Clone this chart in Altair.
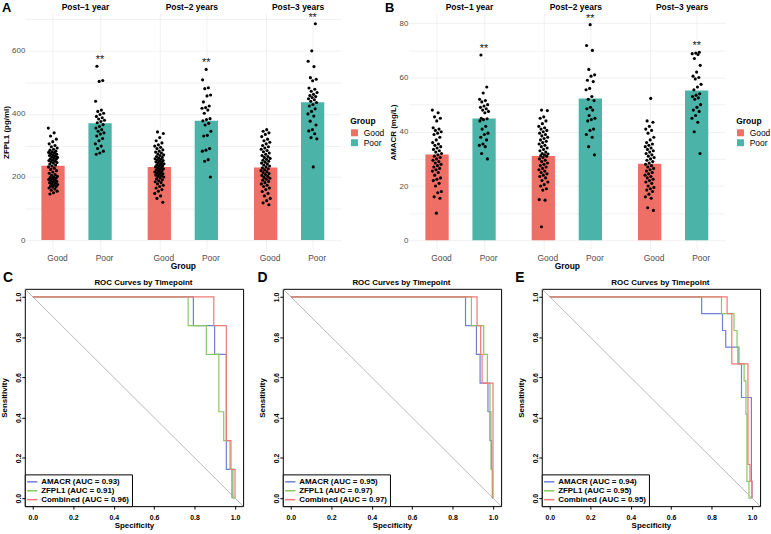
import altair as alt
import pandas as pd

FONT = "Liberation Sans"
GOOD_FILL = "#EE6F66"
POOR_FILL = "#4CB3A9"
ROC_COLORS = ["#6F80D6", "#88C862", "#F27878"]

timepoints = ["Post−1 year", "Post−2 years", "Post−3 years"]
groups = ["Good", "Poor"]

# ---------------- ZFPL1 (pg/ml) individual values ----------------
zfpl1_good_1 = [355, 340, 330, 320, 312, 305, 300, 296, 292, 288, 285, 282, 280, 278, 276, 274, 272,
                270, 268, 266, 264, 262, 260, 258, 256, 254, 252, 250, 248, 246, 244, 241, 238, 235,
                232, 228, 224, 220, 216, 212, 208, 205, 202, 200, 198, 196, 194, 192, 190, 188, 186,
                184, 182, 180, 178, 176, 174, 172, 170, 168, 165, 162, 158, 155, 150, 146]
zfpl1_poor_1 = [551, 506, 503, 440, 412, 408, 402, 398, 392, 388, 384, 380, 376, 372, 366, 360, 355,
                350, 345, 340, 336, 330, 322, 315, 305, 298, 290, 282, 276, 272]
zfpl1_good_2 = [343, 338, 325, 315, 308, 302, 298, 294, 290, 286, 282, 279, 276, 273, 270, 268, 265,
                262, 260, 258, 256, 254, 252, 250, 248, 246, 244, 242, 240, 238, 236, 234, 232, 230,
                228, 226, 224, 222, 220, 218, 216, 214, 212, 210, 208, 206, 204, 202, 200, 197, 194,
                191, 188, 185, 182, 178, 174, 170, 165, 160, 155, 148, 140, 132, 120]
zfpl1_poor_2 = [541, 508, 483, 480, 460, 457, 438, 425, 420, 418, 412, 402, 385, 382, 378, 370, 365,
                345, 332, 330, 290, 285, 282, 255, 250, 200]
zfpl1_good_3 = [350, 345, 340, 335, 328, 320, 315, 310, 305, 300, 296, 292, 288, 284, 280, 276, 272,
                268, 265, 262, 259, 256, 253, 250, 247, 244, 241, 238, 235, 232, 229, 226, 223, 220,
                217, 214, 211, 208, 205, 202, 199, 196, 193, 190, 186, 182, 178, 174, 170, 165, 160,
                154, 148, 140, 132, 125, 118, 112]
zfpl1_poor_3 = [686, 600, 567, 550, 515, 510, 505, 482, 478, 472, 468, 462, 458, 455, 452, 448, 445,
                440, 436, 430, 425, 416, 408, 400, 393, 377, 365, 350, 346, 337, 325, 321, 232]
zfpl1_bar_good = [236, 232, 230]
zfpl1_bar_poor = [370, 378, 437]

# ---------------- AMACR (mg/L) individual values ----------------
amacr_good_1 = [48, 47, 45.5, 45, 44, 41.5, 41, 40.5, 40, 39.5, 39, 38, 37, 36, 35.5, 35, 34.5, 34,
                33.5, 33, 32.5, 32, 31.5, 31, 30.5, 30, 29.5, 29, 28.5, 28, 27.5, 27, 26.5, 26, 25.5,
                25, 24, 23, 22.5, 22, 21, 20, 18, 17.5, 16, 15.5, 10]
amacr_poor_1 = [68.3, 56.5, 54.3, 52, 51.5, 51, 50, 49.5, 49, 48.5, 48, 47.5, 47, 45, 44.8, 44.5, 44,
                42, 41, 39.5, 39, 38, 37, 35.5, 35, 34.5, 32, 30]
amacr_good_2 = [48, 47.8, 45.5, 45, 44, 43, 42, 41.5, 41, 40.5, 40, 39.5, 39, 38.5, 38, 37.5, 37, 36.5,
                36, 35.5, 35, 34.5, 34, 33.5, 33, 32.5, 32, 31.8, 31.5, 31.2, 31, 30.5, 30, 29.5, 29,
                28.5, 28, 27.5, 27, 26.5, 26, 25.5, 25, 24.5, 24, 23.5, 23, 22, 21.5, 20.5, 20, 19,
                18.5, 15, 14.8, 5]
amacr_poor_2 = [79.5, 71.8, 70, 63, 61, 60.5, 59, 58.5, 56, 55.5, 53, 52, 51.5, 49, 48.5, 48, 46, 45,
                44.5, 44, 41, 40.5, 39, 38, 34.5, 31.5]
amacr_good_3 = [52.3, 44, 43.5, 42, 41, 40.5, 39.5, 38, 37, 36, 35.5, 35, 34.5, 34, 33.5, 33, 32.5, 32,
                31.5, 31, 30.5, 30, 29.5, 29, 28.5, 28, 27.5, 27, 26.5, 26, 25.5, 25, 24.5, 24, 23.5,
                23, 22.5, 22, 21.5, 21, 20, 19.5, 19, 18.5, 18, 17, 16, 15.5, 12, 11]
amacr_poor_3 = [69.3, 69, 68.8, 68.5, 67, 64.5, 62, 60.5, 60, 59.5, 57.5, 56.5, 55.5, 54, 53.5, 53,
                52.5, 52, 50, 49, 48, 47.5, 46, 45, 43.5, 40, 32]
amacr_bar_good = [31.6, 31.1, 28.2]
amacr_bar_poor = [44.9, 52.3, 55.2]

# ---------------- ROC curves (specificity, sensitivity) ----------------
markers = ["AMACR", "ZFPL1", "Combined"]

auc_c = [0.93, 0.91, 0.96]
roc_c_amacr_spec = [0, 0.794, 0.794, 0.899, 0.899, 0.957, 0.957, 0.985, 0.985]
roc_c_amacr_sens = [1, 1, 0.857, 0.857, 0.714, 0.714, 0.143, 0.143, 0]
roc_c_zfpl1_spec = [0, 0.768, 0.768, 0.858, 0.858, 0.92, 0.92, 0.944, 0.944, 0.975, 0.975, 0.99, 0.99, 1.0]
roc_c_zfpl1_sens = [1, 1, 0.857, 0.857, 0.714, 0.714, 0.429, 0.429, 0.286, 0.286, 0.143, 0.143, 0, 0]
roc_c_comb_spec = [0, 0.895, 0.895, 0.957, 0.957, 0.98, 0.98, 1.0, 1.0]
roc_c_comb_sens = [1, 1, 0.857, 0.857, 0.286, 0.286, 0.143, 0.143, 0]

auc_d = [0.95, 0.97, 0.97]
roc_d_amacr_spec = [0, 0.864, 0.864, 0.918, 0.918, 0.936, 0.936, 0.975, 0.975, 0.985, 0.985, 0.993, 0.993, 0.997, 0.997]
roc_d_amacr_sens = [1, 1, 0.857, 0.857, 0.714, 0.714, 0.571, 0.571, 0.429, 0.429, 0.286, 0.286, 0.143, 0.143, 0]
roc_d_zfpl1_spec = [0, 0.893, 0.893, 0.954, 0.954, 0.972, 0.972, 0.985, 0.985, 0.99, 0.99, 0.997, 0.997, 1.0]
roc_d_zfpl1_sens = [1, 1, 0.857, 0.857, 0.714, 0.714, 0.571, 0.571, 0.429, 0.429, 0.143, 0.143, 0, 0]
roc_d_comb_spec = [0, 0.921, 0.921, 0.939, 0.939, 0.946, 0.946, 1.0, 1.0]
roc_d_comb_sens = [1, 1, 0.857, 0.857, 0.714, 0.714, 0.571, 0.571, 0]

auc_e = [0.94, 0.95, 0.95]
roc_e_amacr_spec = [0, 0.751, 0.751, 0.854, 0.854, 0.87, 0.87, 0.931, 0.931, 0.948, 0.948, 0.997, 0.997, 1.0, 1.0]
roc_e_amacr_sens = [1, 1, 0.917, 0.917, 0.833, 0.833, 0.75, 0.75, 0.667, 0.667, 0.5, 0.5, 0.083, 0.083, 0]
roc_e_zfpl1_spec = [0, 0.849, 0.849, 0.911, 0.911, 0.926, 0.926, 0.936, 0.936, 0.961, 0.961, 0.97, 0.97,
                    0.975, 0.975, 0.985, 0.985, 1.0]
roc_e_zfpl1_sens = [1, 1, 0.917, 0.917, 0.833, 0.833, 0.75, 0.75, 0.667, 0.667, 0.583, 0.583, 0.417,
                    0.417, 0.083, 0.083, 0, 0]
roc_e_comb_spec = [0, 0.877, 0.877, 0.9, 0.9, 0.98, 0.98, 0.99, 0.99, 1.0, 1.0]
roc_e_comb_sens = [1, 1, 0.917, 0.917, 0.667, 0.667, 0.167, 0.167, 0.083, 0.083, 0]

STEP = 2.26  # distance between facets in units of the Good-Poor gap
BAR_HALF = 0.2475


def bar_panel(goods, poors, bar_good, bar_poor, ytitle, ydomain, grid_vals, label_step,
              letter, letter_x, legend_x, y_extent, y_label_pad):
    pts, bars, stars, heads = [], [], [], []
    for f in range(3):
        for g, vals in enumerate([goods[f], poors[f]]):
            for i, v in enumerate(vals):
                jit = (((i * 0.6180339887) + f * 0.31 + g * 0.17) % 1.0 - 0.5) * 0.2
                pts.append({"pos": f * STEP + g + jit, "value": v})
        bars.append({"pos": f * STEP, "x0": f * STEP - BAR_HALF, "x1": f * STEP + BAR_HALF,
                     "mean": bar_good[f], "group": "Good"})
        bars.append({"pos": f * STEP + 1, "x0": f * STEP + 1 - BAR_HALF, "x1": f * STEP + 1 + BAR_HALF,
                     "mean": bar_poor[f], "group": "Poor"})
        stars.append({"pos": f * STEP + 1, "top": max(poors[f]), "t": "**"})
        heads.append({"pos": f * STEP + 0.5, "label": timepoints[f]})
    pts, bars, stars, heads = map(pd.DataFrame, [pts, bars, stars, heads])

    xscale = alt.Scale(domain=[-0.6, 2 * STEP + 1.6], nice=False, zero=False)
    yscale = alt.Scale(domain=ydomain, nice=False, zero=False)
    tick_pos = [f * STEP + g for f in range(3) for g in range(2)]
    xaxis = alt.Axis(values=tick_pos, title="Group",
                     labelExpr=f"(datum.value - floor(datum.value/{STEP} + 0.001)*{STEP}) > 0.5 ? 'Poor' : 'Good'",
                     grid=True, gridColor="#EDEDED", gridWidth=0.8, ticks=False, domain=False,
                     labelOffset=4, labelFontSize=8.5, labelColor="#4D4D4D", labelPadding=2,
                     titleFontSize=8.5, titleFontWeight="bold", titleColor="black", titlePadding=0)
    yaxis = alt.Axis(values=grid_vals, title=ytitle,
                     labelExpr=f"datum.value % {label_step} == 0 ? datum.label : ''",
                     grid=True, gridColor="#EDEDED", gridWidth=0.8, ticks=False, domain=False,
                     labelFontSize=8, labelColor="#4D4D4D", labelPadding=y_label_pad,
                     minExtent=y_extent, maxExtent=y_extent,
                     titleFontSize=8, titleFontWeight="bold", titleColor="black", titlePadding=1)

    def X(field):
        return alt.X(field, type="quantitative", scale=xscale, axis=xaxis)

    def Y(field):
        return alt.Y(field, type="quantitative", scale=yscale, axis=yaxis)

    bar_layer = alt.Chart(bars).mark_bar().encode(
        x=X("x0"), x2="x1", y=Y("mean"), y2=alt.datum(0),
        fill=alt.Fill("group:N", scale=alt.Scale(domain=groups, range=[GOOD_FILL, POOR_FILL]),
                      legend=alt.Legend(title="Group", orient="none", legendX=legend_x, legendY=105,
                                        symbolType="square", symbolSize=49, symbolStrokeWidth=0,
                                        titleFontSize=8.5, titleFontWeight="bold", titleColor="black",
                                        labelFontSize=8.5, labelColor="black", rowPadding=1,
                                        titlePadding=3, labelOffset=5)))
    pt_layer = alt.Chart(pts).mark_circle(size=10, color="black", opacity=1).encode(
        x=X("pos"), y=Y("value"))
    star_layer = alt.Chart(stars).mark_text(fontSize=11, fill="#222222", baseline="alphabetic", dy=-3).encode(
        x=X("pos"), y=Y("top"), text="t:N")
    head_layer = alt.Chart(heads).mark_text(fontSize=8.5, fontWeight="bold", fill="black",
                                            baseline="alphabetic", dx=9).encode(
        x=X("pos"), y=alt.value(-3), text="label:N")
    letter_layer = alt.Chart(pd.DataFrame({"t": [letter]})).mark_text(
        fontSize=13, fontWeight="bold", fill="black", align="left", baseline="top").encode(
        x=alt.value(letter_x), y=alt.value(-11), text="t:N")
    return alt.layer(bar_layer, pt_layer, star_layer, head_layer, letter_layer).properties(
        width=318.5, height=240)


def roc_panel(series, aucs, letter, letter_x):
    labels = [f"{m} (AUC = {a:.2f})" for m, a in zip(markers, aucs)]
    rows = []
    for lab, (spec, sens) in zip(labels, series):
        for i, (s, t) in enumerate(zip(spec, sens)):
            rows.append({"series": lab, "i": i, "spec": s, "sens": t})
    df = pd.DataFrame(rows)
    dom = [-0.04, 1.04]
    diag = pd.DataFrame({"spec": dom, "sens": [1 - d for d in dom]})

    xs = alt.Scale(domain=dom, nice=False, zero=False)
    ys = alt.Scale(domain=dom, nice=False, zero=False)
    ticks = [0, 0.2, 0.4, 0.6, 0.8, 1.0]
    xaxis = alt.Axis(values=ticks, format=".1f", title="Specificity", grid=False, domain=False,
                     tickSize=3, tickColor="black", labelPadding=4, labelFontSize=7,
                     labelFontWeight="bold", labelColor="black", minExtent=13, maxExtent=13,
                     titleFontSize=8, titleFontWeight="bold", titleColor="black", titlePadding=3)
    yaxis = alt.Axis(values=ticks, format=".1f", title="Sensitivity", grid=False, domain=False,
                     tickSize=3, tickColor="black", labelPadding=0, labelFontSize=7,
                     labelFontWeight="bold", labelColor="black", labelAngle=270,
                     labelAlign="center", labelBaseline="bottom", minExtent=11, maxExtent=11,
                     titleFontSize=8, titleFontWeight="bold", titleColor="black", titlePadding=5)

    diag_layer = alt.Chart(diag).mark_line(color="#9A9A9A", strokeWidth=0.7).encode(
        x=alt.X("spec:Q", scale=xs, axis=xaxis), y=alt.Y("sens:Q", scale=ys, axis=yaxis))
    color = alt.Stroke("series:N", scale=alt.Scale(domain=labels, range=ROC_COLORS),
                       legend=alt.Legend(title=None, orient="bottom-left", offset=0,
                                         symbolType="M-1.3,0H1.3", symbolStrokeWidth=1.5, symbolSize=64,
                                         strokeColor="black", fillColor="white", padding=2.5,
                                         labelFontSize=8, labelFontWeight="bold", labelColor="black",
                                         rowPadding=0, labelOffset=4))
    line_layers = []
    for lab in labels:
        line_layers.append(
            alt.Chart(df).transform_filter(alt.datum.series == lab).mark_line(strokeWidth=1.2).encode(
                x=alt.X("spec:Q", scale=xs, axis=xaxis), y=alt.Y("sens:Q", scale=ys, axis=yaxis),
                stroke=color, order="i:Q"))
    title_layer = alt.Chart(pd.DataFrame({"t": ["ROC Curves by Timepoint"]})).mark_text(
        fontSize=8, fontWeight="bold", fill="black", baseline="alphabetic").encode(
        x=alt.value(119.5), y=alt.value(-4), text="t:N")
    letter_layer = alt.Chart(pd.DataFrame({"t": [letter]})).mark_text(
        fontSize=14, fontWeight="bold", fill="black", align="left", baseline="top").encode(
        x=alt.value(letter_x), y=alt.value(-18), text="t:N")
    return alt.layer(diag_layer, *line_layers, title_layer, letter_layer).properties(
        width=220, height=219,
        view=alt.ViewBackground(stroke="black", strokeWidth=1, fill="white"))


panel_a = bar_panel([zfpl1_good_1, zfpl1_good_2, zfpl1_good_3],
                    [zfpl1_poor_1, zfpl1_poor_2, zfpl1_poor_3],
                    zfpl1_bar_good, zfpl1_bar_poor, "ZFPL1 (pg/ml)", [-35, 720],
                    list(range(0, 701, 100)), 200, "A", -23, 328, 13, 0)
panel_b = bar_panel([amacr_good_1, amacr_good_2, amacr_good_3],
                    [amacr_poor_1, amacr_poor_2, amacr_poor_3],
                    amacr_bar_good, amacr_bar_poor, "AMACR (mg/L)", [-4, 83.8],
                    list(range(0, 81, 10)), 20, "B", -24, 330, 10, 1)

panel_c = roc_panel([(roc_c_amacr_spec, roc_c_amacr_sens), (roc_c_zfpl1_spec, roc_c_zfpl1_sens),
                     (roc_c_comb_spec, roc_c_comb_sens)], auc_c, "C", -22)
panel_d = roc_panel([(roc_d_amacr_spec, roc_d_amacr_sens), (roc_d_zfpl1_spec, roc_d_zfpl1_sens),
                     (roc_d_comb_spec, roc_d_comb_sens)], auc_d, "D", -25.6)
panel_e = roc_panel([(roc_e_amacr_spec, roc_e_amacr_sens), (roc_e_zfpl1_spec, roc_e_zfpl1_sens),
                     (roc_e_comb_spec, roc_e_comb_sens)], auc_e, "E", -26.7)

top = alt.hconcat(panel_a, panel_b, spacing=0).resolve_scale(fill="independent").resolve_legend(fill="independent")
bottom = alt.hconcat(panel_c, panel_d, panel_e, spacing=11).resolve_scale(stroke="independent").resolve_legend(stroke="independent")

chart = alt.vconcat(top, bottom, spacing=0).resolve_scale(
    fill="independent", stroke="independent").resolve_legend(
    fill="independent", stroke="independent").properties(
    padding={"left": 0, "top": 0, "right": 0, "bottom": 0}
).configure(font=FONT).configure_view(strokeWidth=0)

chart.save("out.html", embed_options={"renderer": "svg", "actions": False})
